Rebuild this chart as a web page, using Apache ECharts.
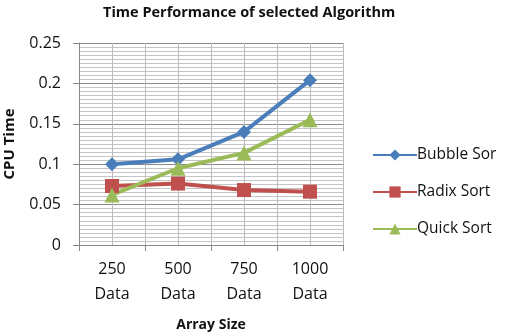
<!DOCTYPE html>
<html>
<head>
<meta charset="utf-8">
<style>
  html, body { margin: 0; padding: 0; background: #fff; }
  #chart { width: 505px; height: 336px; }
</style>
<script src="https://cdn.jsdelivr.net/npm/echarts@6/dist/echarts.min.js"></script>
</head>
<body>
<div id="chart"></div>
<script>
// Time Performance of selected Algorithm
var categories = ['250\nData', '500\nData', '750\nData', '1000\nData'];
var bubbleSort = [0.1, 0.106, 0.14, 0.204];
var radixSort = [0.073, 0.076, 0.068, 0.066];
var quickSort = [0.062, 0.095, 0.114, 0.155];

var font = '"Open Sans", "Liberation Sans", sans-serif';

var option = {
  animation: false,
  title: {
    text: 'Time Performance of selected Algorithm',
    left: 98,
    top: 0,
    textStyle: { fontFamily: font, fontSize: 14.5, fontWeight: 'bold', color: '#111' },
  },
  legend: {
    orient: 'vertical',
    left: 367,
    top: 142,
    itemWidth: 44,
    itemHeight: 14,
    itemGap: 21,
    textStyle: { fontFamily: font, fontSize: 15.5, color: '#111', padding: [0, 0, 0, -5] },
    data: ['Bubble Sor', 'Radix Sort', 'Quick Sort'],
  },
  grid: { left: 79, right: 162, top: 43, bottom: 91, containLabel: false, outerBoundsMode: 'none' },
  xAxis: [
    {
      type: 'category',
      data: categories,
      boundaryGap: true,
      name: 'Array Size',
      nameLocation: 'middle',
      nameGap: 73,
      nameTextStyle: { fontFamily: font, fontSize: 14, fontWeight: 'bold', color: '#111' },
      axisLine: { lineStyle: { color: '#888', width: 1 } },
      axisTick: { show: true, length: 6, lineStyle: { color: '#888' } },
      axisLabel: { fontFamily: font, fontSize: 16, color: '#111', lineHeight: 25, margin: 12 },
      splitLine: { show: true, lineStyle: { color: '#999', width: 1 } },
    },
    {
      type: 'value',
      min: 0,
      max: 8,
      interval: 1,
      show: true,
      position: 'bottom',
      axisLine: { show: false },
      axisTick: { show: false },
      axisLabel: { show: false },
      splitLine: { show: true, lineStyle: { color: '#bbb', width: 1 } },
    },
  ],
  yAxis: {
    type: 'value',
    min: 0,
    max: 0.25,
    interval: 0.05,
    name: 'CPU Time',
    nameLocation: 'middle',
    nameGap: 62,
    nameRotate: 90,
    nameTextStyle: { fontFamily: font, fontSize: 15, fontWeight: 'bold', color: '#111' },
    axisLine: { show: true, lineStyle: { color: '#888' } },
    axisTick: { show: true, length: 6, lineStyle: { color: '#888' } },
    axisLabel: { fontFamily: font, fontSize: 16, color: '#111', margin: 18 },
    splitLine: { show: true, lineStyle: { color: '#8a8a8a', width: 1 } },
    minorTick: { show: false, splitNumber: 10 },
    minorSplitLine: { show: true, lineStyle: { color: '#c4c4c4', width: 1 } },
  },
  series: [
    {
      name: 'Bubble Sor',
      type: 'line',
      data: bubbleSort,
      symbol: 'diamond',
      symbolSize: 14,
      lineStyle: { width: 4, color: '#4A7EBB' },
      itemStyle: { color: '#4A7EBB' },
    },
    {
      name: 'Radix Sort',
      type: 'line',
      data: radixSort,
      symbol: 'rect',
      symbolSize: 14,
      lineStyle: { width: 4, color: '#C0504D' },
      itemStyle: { color: '#C0504D' },
    },
    {
      name: 'Quick Sort',
      type: 'line',
      data: quickSort,
      symbol: 'triangle',
      symbolSize: 15,
      lineStyle: { width: 4, color: '#9BBB59' },
      itemStyle: { color: '#9BBB59' },
    },
  ],
};

var chart = echarts.init(document.getElementById('chart'));
chart.setOption(option);
</script>
</body>
</html>
